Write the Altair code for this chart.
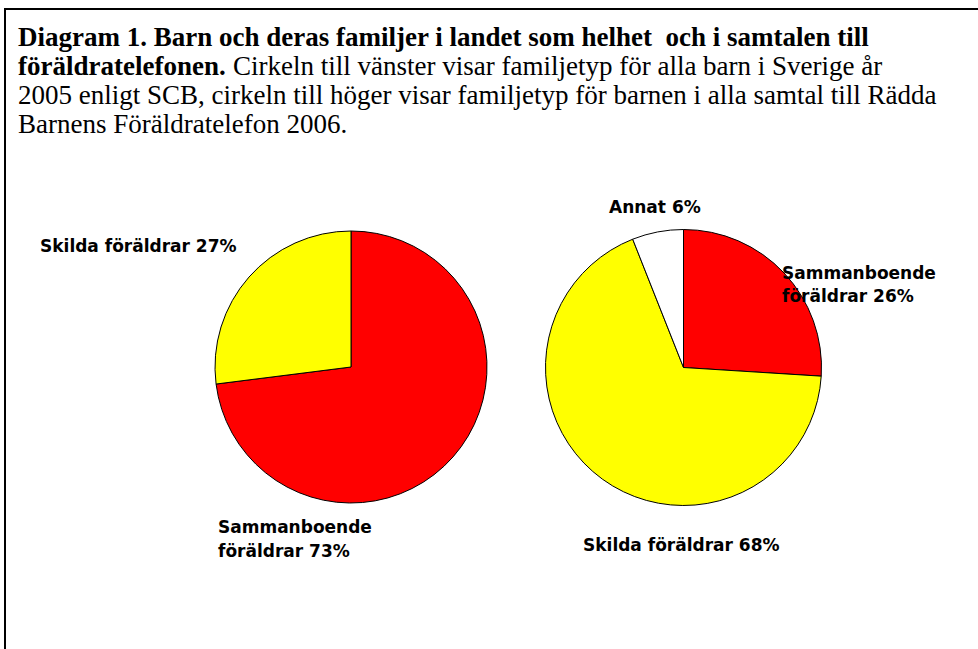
import altair as alt
import pandas as pd

# Data
left_categories = ["Sammanboende föräldrar", "Skilda föräldrar"]
left_values = [73, 27]
right_categories = ["Sammanboende föräldrar", "Skilda föräldrar", "Annat"]
right_values = [26, 68, 6]
colors_map = {"Sammanboende föräldrar": "#FF0000", "Skilda föräldrar": "#FFFF00", "Annat": "#FFFFFF"}

title_bold_1 = "Diagram 1. Barn och deras familjer i landet som helhet\u00a0 och i samtalen till"
title_bold_2 = "föräldratelefonen."
title_norm_2 = "Cirkeln till vänster visar familjetyp för alla barn i Sverige år"
title_norm_3 = "2005 enligt SCB, cirkeln till höger visar familjetyp för barnen i alla samtal till Rädda"
title_norm_4 = "Barnens Föräldratelefon 2006."

W, H = 978, 649

left_df = pd.DataFrame({"cat": left_categories, "val": left_values, "ord": list(range(len(left_values)))})
right_df = pd.DataFrame({"cat": right_categories, "val": right_values, "ord": list(range(len(right_values)))})

color_scale = alt.Scale(domain=list(colors_map.keys()), range=list(colors_map.values()))

def pie(df, cx, cy, r):
    return alt.Chart(df).mark_arc(outerRadius=r, stroke="black", strokeWidth=1).encode(
        theta=alt.Theta("val:Q", stack=True, scale=alt.Scale(domain=[0, 100])),
        order=alt.Order("ord:Q"),
        color=alt.Color("cat:N", scale=color_scale, legend=None),
        x=alt.value(cx),
        y=alt.value(cy),
    )

def txt(s, x, y, size, weight="normal", font="Liberation Serif", align="left"):
    return alt.Chart(pd.DataFrame({"t": [s]})).mark_text(
        font=font, fontSize=size, fontWeight=weight, align=align, baseline="alphabetic", color="black"
    ).encode(text="t:N", x=alt.value(x), y=alt.value(y))

border = alt.Chart(pd.DataFrame({"a": [0]})).mark_rect(fill=None, stroke="black", strokeWidth=2).encode(
    x=alt.value(5), x2=alt.value(W + 20), y=alt.value(9), y2=alt.value(H + 20)
)

TB = 27
TN = 27
LF = "DejaVu Sans"
LS = 17
layers = [
    border,
    pie(left_df, 351, 367, 136),
    pie(right_df, 683.5, 367.5, 138),
    txt(title_bold_1, 18, 46, TB, "bold"),
    txt(title_bold_2, 18, 75, TB, "bold"),
    txt(title_norm_2, 233, 75, TN),
    txt(title_norm_3, 18, 104, TN),
    txt(title_norm_4, 18, 133, TN),
    txt("Skilda föräldrar 27%", 40, 252, LS, "bold", LF),
    txt("Annat 6%", 609, 213, LS, "bold", LF),
    txt("Sammanboende", 782, 279, LS, "bold", LF),
    txt("föräldrar 26%", 782, 302, LS, "bold", LF),
    txt("Sammanboende", 218, 533, LS, "bold", LF),
    txt("föräldrar 73%", 218, 557, LS, "bold", LF),
    txt("Skilda föräldrar 68%", 583, 551, LS, "bold", LF),
]

chart = alt.layer(*layers).properties(
    width=W, height=H, padding=0, autosize=alt.AutoSizeParams(type="none"),
    background="white"
).configure_view(stroke=None)

chart.save("out.html", embed_options={"renderer": "svg", "actions": False})
